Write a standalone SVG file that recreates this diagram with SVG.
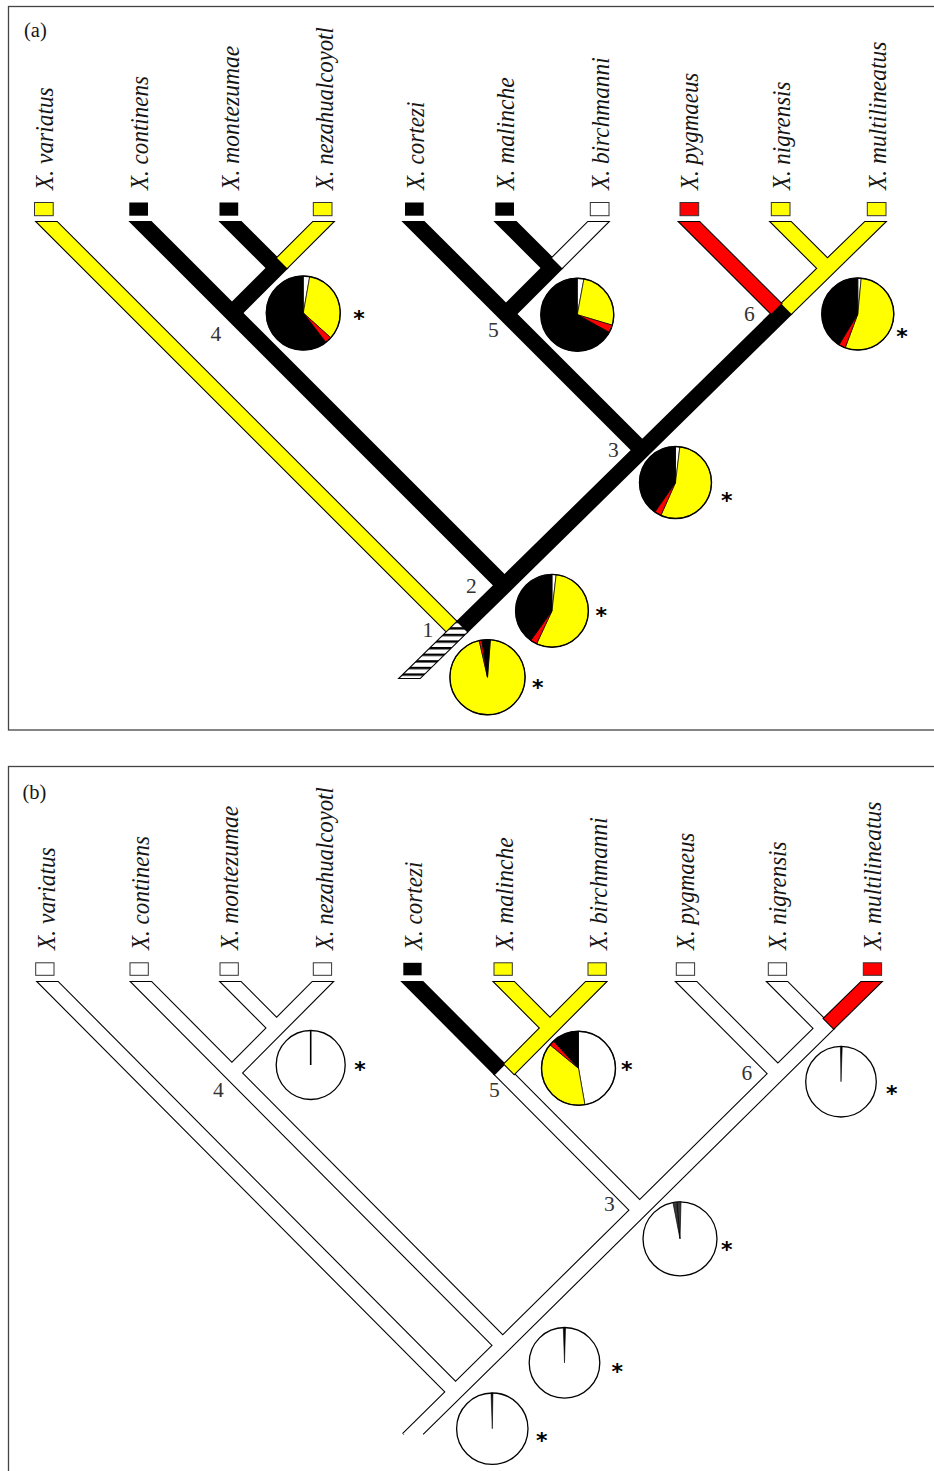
<svg xmlns="http://www.w3.org/2000/svg" xmlns:xlink="http://www.w3.org/1999/xlink" width="934" height="1471" viewBox="0 0 934 1471">
<style>
.o{fill:none;stroke:#000;stroke-width:2.2;stroke-linejoin:miter;stroke-miterlimit:10}
.K{fill:#000}.Y{fill:#ff0}.R{fill:#f00}.W{fill:#fff}
.sp{font-family:"Liberation Serif",serif;font-style:italic;font-size:25px;fill:#151515}
.num{font-family:"Liberation Serif",serif;font-size:21.5px;fill:#333}
.ttl{font-family:"Liberation Serif",serif;font-size:20.5px;fill:#151515}
.star{font-family:"DejaVu Sans",sans-serif;font-weight:bold;font-size:22px;text-anchor:middle;fill:#000}
.box{stroke:#333;stroke-width:1}
.pie path{stroke:#000;stroke-width:0.7}
.pie circle{fill:none;stroke:#000;stroke-width:1.4}
.pw circle{fill:#fff;stroke:#000;stroke-width:1.3}
.frame{fill:none;stroke:#444;stroke-width:1.3}
</style>
<defs>
<pattern id="hatch" patternUnits="userSpaceOnUse" x="0" y="633.8" width="20" height="6.6">
<rect width="20" height="6.6" fill="#fff"/>
<rect width="20" height="2.4" fill="#000"/>
</pattern>
<polygon id="pA" points="37,222 57,222 457,622 447,632"/>
<polygon id="pAx" points="37,222 57,222 458,623 448,633"/>
<polygon id="pB" points="131,222 151,222 505.5,576.5 495.5,586.5"/>
<polygon id="pC" points="221,222 241,222 278,259 268,269"/>
<polygon id="pD" points="313,222 333,222 287,268 277,258"/>
<polygon id="pE" points="277,258 287,268 241,314 231,304"/>
<polygon id="pDE" points="313,222 333,222 241,314 231,304"/>
<polygon id="pF" points="404,222 424,222 506,304 496,314"/>
<polygon id="pG" points="496,314 506,304 643.25,441.25 633.25,451.25"/>
<polygon id="pFG" points="404,222 424,222 643.25,441.25 633.25,451.25"/>
<polygon id="pH" points="496,222 516,222 553,259 543,269"/>
<polygon id="pI" points="588,222 608,222 562,268 552,258"/>
<polygon id="pJ" points="552,258 562,268 516,314 506,304"/>
<polygon id="pIJ" points="588,222 608,222 516,314 506,304"/>
<polygon id="pK" points="679.5,222 699.5,222 781.25,303.75 771.25,313.75"/>
<polygon id="pKx" points="679.5,222 699.5,222 782.25,304.75 772.25,314.75"/>
<polygon id="pL" points="771,222 791,222 828.5,259.5 818.5,269.5"/>
<polygon id="pM" points="865,222 885,222 837.5,268.5 827.5,258.5"/>
<polygon id="pMN" points="865,222 885,222 837.5,268.5 791.25,313.75 781.25,303.75 827.5,258.5"/>
<polygon id="pO" points="781.25,303.75 791.25,313.75 652.25,450.25 514.5,585.5 467,632 457,622 504.5,575.5 642.25,440.25"/>
<polygon id="pP" points="457,622 467,632 420,678 400,678"/>
<polygon id="pT" points="827.5,258.5 837.5,268.5 791.25,313.75 652.25,450.25 514.5,585.5 467,632 424,674 404,674 457,622 504.5,575.5 642.25,440.25 781.25,303.75"/>
<path id="pTo" d="M404,674 L457,622 L504.5,575.5 L642.25,440.25 L781.25,303.75 L827.5,258.5 L837.5,268.5 L791.25,313.75 L652.25,450.25 L514.5,585.5 L467,632 L424,674"/>
</defs>
<rect width="934" height="1471" fill="#fff"/>
<rect class="frame" x="8.5" y="6.5" width="940" height="723.5"/>
<rect class="frame" x="8.5" y="766.5" width="940" height="720"/>
<text class="ttl" x="24" y="36.8">(a)</text>
<text class="ttl" x="22.5" y="798.5">(b)</text>

<g id="connectors-a">
<g class="o"><use xlink:href="#pB"/><use xlink:href="#pC"/><use xlink:href="#pE"/><use xlink:href="#pFG"/><use xlink:href="#pH"/><use xlink:href="#pJ"/><use xlink:href="#pO"/></g>
<g class="K"><use xlink:href="#pB"/><use xlink:href="#pC"/><use xlink:href="#pE"/><use xlink:href="#pFG"/><use xlink:href="#pH"/><use xlink:href="#pJ"/><use xlink:href="#pO"/></g>
<g class="o"><use xlink:href="#pA"/><use xlink:href="#pD"/><use xlink:href="#pL"/><use xlink:href="#pMN"/></g>
<g class="Y"><use xlink:href="#pA"/><use xlink:href="#pD"/><use xlink:href="#pL"/><use xlink:href="#pMN"/></g>
<use xlink:href="#pK" class="o"/><use xlink:href="#pK" class="R"/>
<use xlink:href="#pI" class="o"/><use xlink:href="#pI" class="W"/>
<use xlink:href="#pP" class="o"/><use xlink:href="#pP" fill="url(#hatch)"/>
</g>

<g id="connectors-b" transform="matrix(0.994,0,0,1,1.3,760)">
<g class="o"><use xlink:href="#pAx"/><use xlink:href="#pB"/><use xlink:href="#pC"/><use xlink:href="#pDE"/><use xlink:href="#pG"/><use xlink:href="#pKx"/><use xlink:href="#pL"/><use xlink:href="#pTo"/></g>
<g class="W"><use xlink:href="#pAx"/><use xlink:href="#pB"/><use xlink:href="#pC"/><use xlink:href="#pDE"/><use xlink:href="#pG"/><use xlink:href="#pKx"/><use xlink:href="#pL"/><use xlink:href="#pT"/></g>
<use xlink:href="#pF" class="o"/><use xlink:href="#pF" class="K"/>
<g class="o"><use xlink:href="#pH"/><use xlink:href="#pIJ"/></g>
<g class="Y"><use xlink:href="#pH"/><use xlink:href="#pIJ"/></g>
<use xlink:href="#pM" class="o"/><use xlink:href="#pM" class="R"/>
</g>

<!-- panel a tips -->
<g id="a-variatus"><rect class="box Y" x="34.5" y="202.5" width="18.7" height="13.2"/><text class="sp" transform="translate(53,190) rotate(-90)" textLength="102.7" lengthAdjust="spacingAndGlyphs">X. variatus</text></g>
<g id="a-continens"><rect class="K" x="129.3" y="202.5" width="18.7" height="13.2"/><text class="sp" transform="translate(148,190) rotate(-90)" textLength="114" lengthAdjust="spacingAndGlyphs">X. continens</text></g>
<g id="a-montezumae"><rect class="K" x="219.5" y="202.5" width="18.7" height="13.2"/><text class="sp" transform="translate(238.5,190) rotate(-90)" textLength="144.3" lengthAdjust="spacingAndGlyphs">X. montezumae</text></g>
<g id="a-nezahualcoyotl"><rect class="box Y" x="313.3" y="202.5" width="18.7" height="13.2"/><text class="sp" transform="translate(333,190) rotate(-90)" textLength="162.7" lengthAdjust="spacingAndGlyphs">X. nezahualcoyotl</text></g>
<g id="a-cortezi"><rect class="K" x="405" y="202.5" width="18.7" height="13.2"/><text class="sp" transform="translate(424,190) rotate(-90)" textLength="88.3" lengthAdjust="spacingAndGlyphs">X. cortezi</text></g>
<g id="a-malinche"><rect class="K" x="495.3" y="202.5" width="18.7" height="13.2"/><text class="sp" transform="translate(514,190) rotate(-90)" textLength="112.7" lengthAdjust="spacingAndGlyphs">X. malinche</text></g>
<g id="a-birchmanni"><rect class="box W" x="590.3" y="202.5" width="18.7" height="13.2"/><text class="sp" transform="translate(608.5,190) rotate(-90)" textLength="132.7" lengthAdjust="spacingAndGlyphs">X. birchmanni</text></g>
<g id="a-pygmaeus"><rect class="box R" x="680" y="202.5" width="18.7" height="13.2"/><text class="sp" transform="translate(697.5,190) rotate(-90)" textLength="117.3" lengthAdjust="spacingAndGlyphs">X. pygmaeus</text></g>
<g id="a-nigrensis"><rect class="box Y" x="771.3" y="202.5" width="18.7" height="13.2"/><text class="sp" transform="translate(789.5,190) rotate(-90)" textLength="108.3" lengthAdjust="spacingAndGlyphs">X. nigrensis</text></g>
<g id="a-multilineatus"><rect class="box Y" x="867.3" y="202.5" width="18.7" height="13.2"/><text class="sp" transform="translate(886,190) rotate(-90)" textLength="148.3" lengthAdjust="spacingAndGlyphs">X. multilineatus</text></g>

<!-- panel a internal nodes -->
<g id="a-node4" class="pie">
<path class="W" d="M303.3,313 L303.3,276 A37,37 0 0 1 309.72,276.56 Z"/>
<path class="Y" d="M303.3,313 L309.72,276.56 A37,37 0 0 1 330.8,337.76 Z"/>
<path class="R" d="M303.3,313 L330.8,337.76 A37,37 0 0 1 325.83,342.35 Z"/>
<path class="K" d="M303.3,313 L325.83,342.35 A37,37 0 1 1 303.3,276 Z"/>
<circle cx="303.3" cy="313" r="37"/>
<text class="star" x="359" y="326.3">*</text>
<text class="num" x="210.5" y="340.5">4</text>
</g>
<g id="a-node5" class="pie">
<path class="W" d="M577.3,314.7 L577.3,278.2 A36.5,36.5 0 0 1 583.95,278.81 Z"/>
<path class="Y" d="M577.3,314.7 L583.95,278.81 A36.5,36.5 0 0 1 612.26,325.19 Z"/>
<path class="R" d="M577.3,314.7 L612.26,325.19 A36.5,36.5 0 0 1 609.22,332.4 Z"/>
<path class="K" d="M577.3,314.7 L609.22,332.4 A36.5,36.5 0 1 1 577.3,278.2 Z"/>
<circle cx="577.3" cy="314.7" r="36.5"/>
<text class="num" x="488" y="336.5">5</text>
</g>
<g id="a-node6" class="pie">
<path class="W" d="M857.8,314 L857.8,278 A36,36 0 0 1 861.25,278.17 Z"/>
<path class="Y" d="M857.8,314 L861.25,278.17 A36,36 0 1 1 845.19,347.72 Z"/>
<path class="R" d="M857.8,314 L845.19,347.72 A36,36 0 0 1 839.04,344.73 Z"/>
<path class="K" d="M857.8,314 L839.04,344.73 A36,36 0 0 1 857.8,278 Z"/>
<circle cx="857.8" cy="314" r="36"/>
<text class="star" x="902" y="343.7">*</text>
<text class="num" x="744" y="320.5">6</text>
</g>
<g id="a-node3" class="pie">
<path class="W" d="M675.5,482.5 L675.5,446.5 A36,36 0 0 1 679.89,446.77 Z"/>
<path class="Y" d="M675.5,482.5 L679.89,446.77 A36,36 0 1 1 660.86,515.39 Z"/>
<path class="R" d="M675.5,482.5 L660.86,515.39 A36,36 0 0 1 654.85,511.99 Z"/>
<path class="K" d="M675.5,482.5 L654.85,511.99 A36,36 0 0 1 675.5,446.5 Z"/>
<circle cx="675.5" cy="482.5" r="36"/>
<text class="star" x="726.7" y="508">*</text>
<text class="num" x="608" y="456.5">3</text>
</g>
<g id="a-node2" class="pie">
<path class="W" d="M552,610.8 L552,574.4 A36.4,36.4 0 0 1 556.18,574.64 Z"/>
<path class="Y" d="M552,610.8 L556.18,574.64 A36.4,36.4 0 1 1 536.62,643.79 Z"/>
<path class="R" d="M552,610.8 L536.62,643.79 A36.4,36.4 0 0 1 530.81,640.4 Z"/>
<path class="K" d="M552,610.8 L530.81,640.4 A36.4,36.4 0 0 1 552,574.4 Z"/>
<circle cx="552" cy="610.8" r="36.4"/>
<text class="star" x="601.3" y="623">*</text>
<text class="num" x="466" y="593">2</text>
</g>
<g id="a-node1" class="pie">
<path class="Y" d="M487.5,677.2 L490.38,639.71 A37.6,37.6 0 1 1 479.17,640.54 Z"/>
<path class="R" d="M487.5,677.2 L479.17,640.54 A37.6,37.6 0 0 1 481.81,640.03 Z"/>
<path class="K" d="M487.5,677.2 L481.81,640.03 A37.6,37.6 0 0 1 490.38,639.71 Z"/>
<circle cx="487.5" cy="677.2" r="37.6"/>
<text class="star" x="537.7" y="695.3">*</text>
<text class="num" x="422.5" y="636.5">1</text>
</g>

<!-- panel b tips -->
<g id="b-variatus"><rect class="box W" x="35.7" y="962.8" width="18.3" height="12.5"/><text class="sp" transform="translate(54.5,950) rotate(-90)" textLength="102.7" lengthAdjust="spacingAndGlyphs">X. variatus</text></g>
<g id="b-continens"><rect class="box W" x="130" y="962.8" width="18.3" height="12.5"/><text class="sp" transform="translate(148.5,950) rotate(-90)" textLength="114" lengthAdjust="spacingAndGlyphs">X. continens</text></g>
<g id="b-montezumae"><rect class="box W" x="220" y="962.8" width="18.3" height="12.5"/><text class="sp" transform="translate(238.3,950) rotate(-90)" textLength="144.3" lengthAdjust="spacingAndGlyphs">X. montezumae</text></g>
<g id="b-nezahualcoyotl"><rect class="box W" x="313.3" y="962.8" width="18.3" height="12.5"/><text class="sp" transform="translate(332.8,950) rotate(-90)" textLength="162.7" lengthAdjust="spacingAndGlyphs">X. nezahualcoyotl</text></g>
<g id="b-cortezi"><rect class="K" x="403.3" y="962.8" width="18.3" height="12.5"/><text class="sp" transform="translate(422.3,950) rotate(-90)" textLength="88.3" lengthAdjust="spacingAndGlyphs">X. cortezi</text></g>
<g id="b-malinche"><rect class="box Y" x="494" y="962.8" width="18.3" height="12.5"/><text class="sp" transform="translate(512.5,950) rotate(-90)" textLength="112.7" lengthAdjust="spacingAndGlyphs">X. malinche</text></g>
<g id="b-birchmanni"><rect class="box Y" x="588" y="962.8" width="18.3" height="12.5"/><text class="sp" transform="translate(606.5,950) rotate(-90)" textLength="132.7" lengthAdjust="spacingAndGlyphs">X. birchmanni</text></g>
<g id="b-pygmaeus"><rect class="box W" x="676.3" y="962.8" width="18.3" height="12.5"/><text class="sp" transform="translate(694,950) rotate(-90)" textLength="117.3" lengthAdjust="spacingAndGlyphs">X. pygmaeus</text></g>
<g id="b-nigrensis"><rect class="box W" x="768.3" y="962.8" width="18.3" height="12.5"/><text class="sp" transform="translate(786.3,950) rotate(-90)" textLength="108.3" lengthAdjust="spacingAndGlyphs">X. nigrensis</text></g>
<g id="b-multilineatus"><rect class="box R" x="863.3" y="962.8" width="18.3" height="12.5"/><text class="sp" transform="translate(881,950) rotate(-90)" textLength="148.3" lengthAdjust="spacingAndGlyphs">X. multilineatus</text></g>

<!-- panel b internal nodes -->
<g id="b-node4" class="pw">
<circle cx="310.7" cy="1065" r="34.5"/>
<line x1="310.7" y1="1065" x2="310.7" y2="1030.5" stroke="#000" stroke-width="1.6"/>
<text class="star" x="360" y="1077">*</text>
<text class="num" x="213" y="1096.5">4</text>
</g>
<g id="b-node5" class="pie">
<path class="W" d="M578.5,1068.3 L578.5,1031.3 A37,37 0 0 1 584.92,1104.74 Z"/>
<path class="Y" d="M578.5,1068.3 L584.92,1104.74 A37,37 0 0 1 549.95,1044.76 Z"/>
<path class="R" d="M578.5,1068.3 L549.95,1044.76 A37,37 0 0 1 553.55,1040.98 Z"/>
<path class="K" d="M578.5,1068.3 L553.55,1040.98 A37,37 0 0 1 578.5,1031.3 Z"/>
<circle cx="578.5" cy="1068.3" r="37"/>
<text class="star" x="626.7" y="1077">*</text>
<text class="num" x="489" y="1096.5">5</text>
</g>
<g id="b-node6" class="pw">
<circle cx="841" cy="1081.7" r="35.3"/>
<path d="M841,1081.7 L840.38,1046.41 A35.3,35.3 0 0 1 842.23,1046.42 Z" fill="#000" stroke="#000" stroke-width="0.6"/>
<text class="star" x="891.7" y="1100.7">*</text>
<text class="num" x="741.5" y="1080">6</text>
</g>
<g id="b-node3" class="pw">
<circle cx="680" cy="1238.8" r="37"/>
<path d="M680,1238.8 L672.94,1202.48 A37,37 0 0 1 680.97,1201.81 Z" fill="#3a3a3a" stroke="#000" stroke-width="0.7"/>
<line x1="680" y1="1238.8" x2="677" y2="1202" stroke="#000" stroke-width="0.8"/>
<text class="star" x="726.7" y="1257">*</text>
<text class="num" x="604" y="1210.5">3</text>
</g>
<g id="b-node2" class="pw">
<circle cx="564.5" cy="1362.8" r="35.3"/>
<path d="M564.5,1362.8 L563.27,1327.52 A35.3,35.3 0 0 1 565.55,1327.52 Z" fill="#000" stroke="#000" stroke-width="0.6"/>
<text class="star" x="617.3" y="1379">*</text>
</g>
<g id="b-node1" class="pw">
<circle cx="492.3" cy="1428.7" r="35.7"/>
<path d="M492.3,1428.7 L491.05,1393.02 A35.7,35.7 0 0 1 492.92,1393.01 Z" fill="#000" stroke="#000" stroke-width="0.6"/>
<text class="star" x="541.7" y="1448">*</text>
</g>
</svg>
